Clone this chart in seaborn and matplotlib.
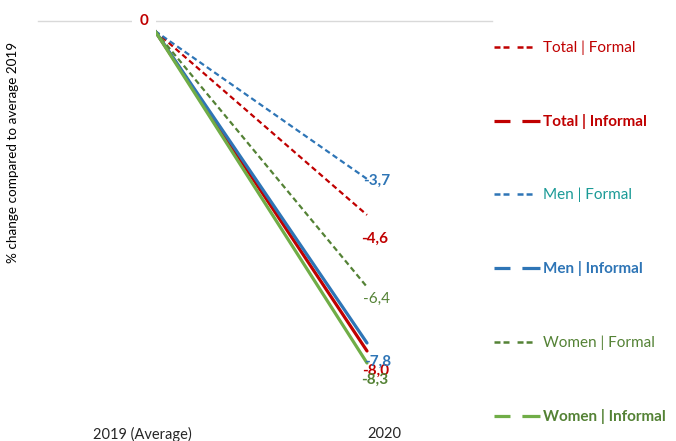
import pandas as pd
import seaborn as sns
import matplotlib.pyplot as plt
from matplotlib.lines import Line2D

# values
periods = ['2019 (Average)', '2020']
series = ['Total | Formal', 'Total | Informal', 'Men | Formal',
          'Men | Informal', 'Women | Formal', 'Women | Informal']
start_vals = [0, 0, 0, 0, 0, 0]
end_vals = [-4.6, -8.0, -3.7, -7.8, -6.4, -8.3]
end_labels = ['-4,6', '-8,0', '-3,7', '-7,8', '-6,4', '-8,3']

colors = ['#C00000', '#C00000', '#2E75B6', '#2E75B6', '#548235', '#70AD47']
text_colors = ['#C00000', '#C00000', '#1A9A96', '#2E75B6', '#548235', '#548235']
dashed = [True, False, True, False, True, False]
label_offsets = [(8, -24), (9, -20), (10, -2), (11, -19), (9, -12), (8, -17)]

sns.set_style('white')
plt.rcParams['font.family'] = ['Lato', 'DejaVu Sans']
plt.rcParams['lines.scale_dashes'] = False

rows = []
for s, a, b in zip(series, start_vals, end_vals):
    rows.append({'series': s, 'x': 0, 'value': a})
    rows.append({'series': s, 'x': 1, 'value': b})
df = pd.DataFrame(rows)

fig = plt.figure(figsize=(6.76, 4.41), dpi=100)
ax = fig.add_axes([38 / 676, 1 - 420 / 441, 454 / 676, (420 - 20.5) / 441])

for i, s in enumerate(series):
    sub = df[df['series'] == s]
    if dashed[i]:
        sns.lineplot(data=sub, x='x', y='value', color=colors[i], lw=1.6,
                     dashes=False, ax=ax, linestyle=(0, (4, 2.5)))
    else:
        sns.lineplot(data=sub, x='x', y='value', color=colors[i], lw=2.3, ax=ax)

for i, s in enumerate(series):
    ax.annotate(end_labels[i], xy=(1, end_vals[i]), xytext=label_offsets[i],
                textcoords='offset pixels', ha='center', va='center',
                color=text_colors[i] if i != 2 else colors[i], fontsize=11,
                fontweight='normal' if i == 4 else 'bold')

ax.annotate('0', xy=(0, 0), xytext=(-11, 10), textcoords='offset pixels',
            ha='center', va='center', color='#C00000', fontsize=11,
            fontweight='bold',
            bbox=dict(boxstyle='square,pad=0.5', fc='white', ec='none'))

ax.set_xlim(-117 / 212, 1 + 125 / 212)
ax.set_ylim(-9.725, 0.26)
ax.set_yticks([])
ax.set_xticks([-0.061, 1.083])
ax.set_xticklabels(periods, fontsize=10.5)
ax.tick_params(axis='x', length=0, pad=5)
ax.set_xlabel('')
ax.set_ylabel('')
for side in ['left', 'right', 'bottom']:
    ax.spines[side].set_visible(False)
ax.spines['top'].set_color('#D9D9D9')
ax.spines['top'].set_linewidth(1)
ax.spines['top'].set_zorder(0)

fig.text(13 / 676, 1 - 152 / 441, '% change compared to average 2019',
         rotation=90, ha='center', va='center', fontsize=9.7, color='black')

handles = []
for i in range(6):
    if dashed[i]:
        ls = (0, (4.3, 2.2, 4.3, 5.8))
        lw = 1.8
    else:
        ls = (0, (11.5, 8.6, 13, 50))
        lw = 2.3
    handles.append(Line2D([0], [0], color=colors[i], lw=lw, linestyle=ls))

leg = fig.legend(handles, series, loc='upper left',
                 bbox_to_anchor=(494 / 676, 1 - 40.5 / 441), frameon=False,
                 fontsize=11, handlelength=3.0, handletextpad=0.2,
                 labelspacing=3.86, borderpad=0, borderaxespad=0)
for i, t in enumerate(leg.get_texts()):
    t.set_color(text_colors[i])
    if not dashed[i]:
        t.set_fontweight('bold')

fig.savefig('out.png', dpi=100)
